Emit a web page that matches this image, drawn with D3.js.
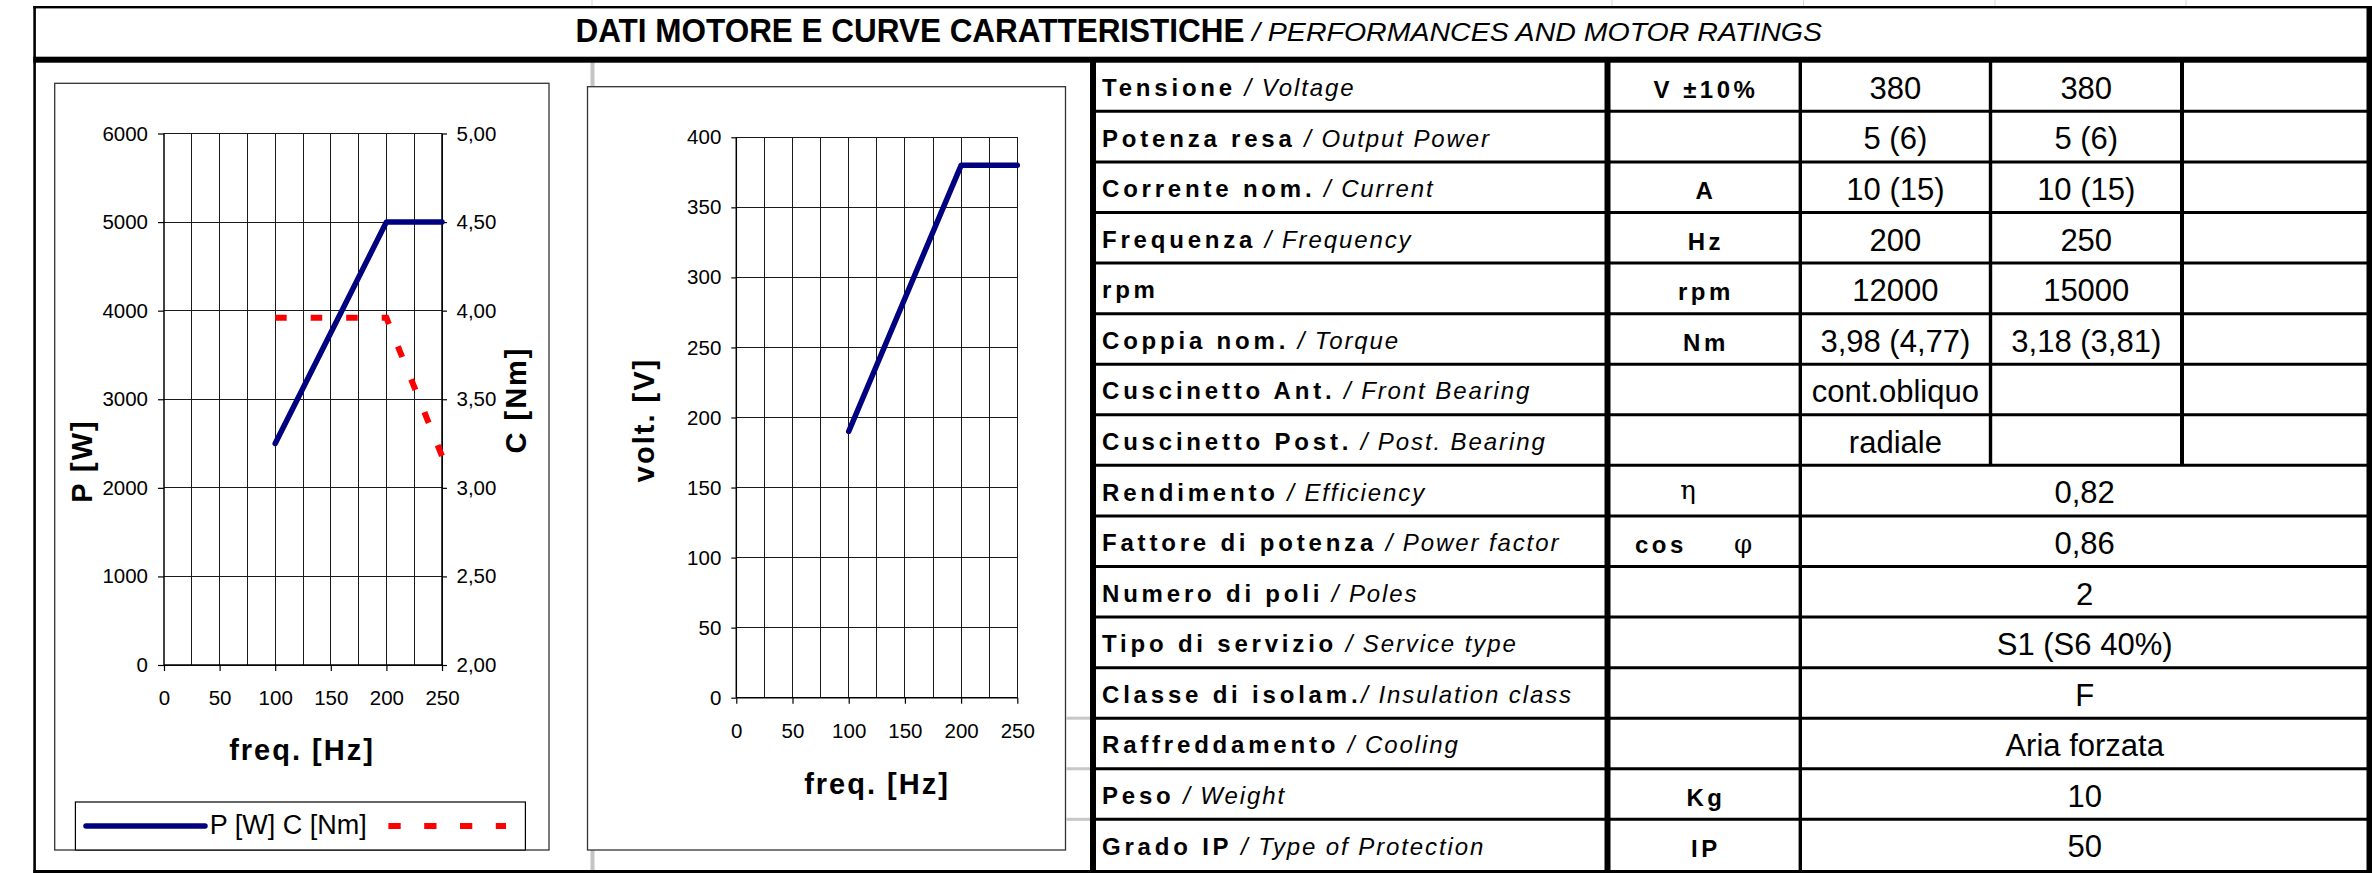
<!DOCTYPE html>
<html><head><meta charset="utf-8">
<script src="https://cdn.jsdelivr.net/npm/d3@7"></script>
<style>
html,body{margin:0;padding:0;background:#fff;}
svg{display:block;}
text{font-family:"Liberation Sans",Arial,sans-serif;fill:#000;}
</style></head><body>
<svg id="c" width="2372" height="873"></svg>
<script>
// ---------- data ----------
const freqHz   = [100, 200, 250];
const powerW   = [2500, 5000, 5000];
const torqueNm = [3.96, 3.96, 3.18];
const voltV    = [190, 380, 380];

const freqTicks   = [0, 50, 100, 150, 200, 250];
const freqGrid    = [25, 50, 75, 100, 125, 150, 175, 200, 225, 250];
const powerTicks  = [0, 1000, 2000, 3000, 4000, 5000, 6000];
const torqueTicks = [2.0, 2.5, 3.0, 3.5, 4.0, 4.5, 5.0];
const voltTicks   = [0, 50, 100, 150, 200, 250, 300, 350, 400];

const titleMain = "DATI MOTORE E CURVE CARATTERISTICHE";
const titleSub  = "/ PERFORMANCES AND MOTOR RATINGS";

const labelIt = ["Tensione", "Potenza resa", "Corrente nom.", "Frequenza", "rpm", "Coppia nom.",
  "Cuscinetto Ant.", "Cuscinetto Post.", "Rendimento", "Fattore di potenza", "Numero di poli",
  "Tipo di servizio", "Classe di isolam.", "Raffreddamento", "Peso", "Grado IP"];
const labelEn = [" / Voltage", " / Output Power", " / Current", " / Frequency", "", " / Torque",
  " / Front Bearing", " / Post. Bearing", " / Efficiency", " / Power factor", " / Poles",
  " / Service type", "/ Insulation class", " / Cooling", " / Weight", " / Type of Protection"];
const units   = ["V ±10%", "", "A", "Hz", "rpm", "Nm", "", "", "", "cos", "", "", "", "", "Kg", "IP"];
const symbols = ["", "", "", "", "", "", "", "", "η", "φ", "", "", "", "", "", ""];
const values200 = ["380", "5 (6)", "10 (15)", "200", "12000", "3,98 (4,77)", "cont.obliquo", "radiale"];
const values250 = ["380", "5 (6)", "10 (15)", "250", "15000", "3,18 (3,81)", "", ""];
const valuesCommon = ["0,82", "0,86", "2", "S1 (S6 40%)", "F", "Aria forzata", "10", "50"];

// ---------- drawing ----------
const svg = d3.select("#c");
const fmtC = d => d3.format(".2f")(d).replace(".", ",");

// faint marks above the frame
[592, 1612, 1803.5, 1995, 2186].forEach(x =>
  svg.append("line").attr("x1", x).attr("x2", x).attr("y1", 0).attr("y2", 6)
    .attr("stroke", "#d8d8d8").attr("stroke-width", 1));

// gray sheet line behind chart 2
svg.append("rect").attr("x", 590.5).attr("y", 60).attr("width", 4).attr("height", 810).attr("fill", "#c4c4c4");

// ---------- chart 1 ----------
svg.append("rect").attr("x", 54.7).attr("y", 83.3).attr("width", 494.3).attr("height", 766.7)
  .attr("fill", "#fff").attr("stroke", "#333").attr("stroke-width", 1.3);

const x1 = d3.scaleLinear().domain([0, 250]).range([164, 442]);
const yP = d3.scaleLinear().domain([0, 6000]).range([665, 133.5]);
const yC = d3.scaleLinear().domain([2, 5]).range([665, 133.5]);

const g1 = svg.append("g");
g1.selectAll(".vg").data(freqGrid).join("line")
  .attr("x1", d => x1(d)).attr("x2", d => x1(d)).attr("y1", yP(0)).attr("y2", yP(6000))
  .attr("stroke", "#1a1a1a").attr("stroke-width", 1).attr("shape-rendering", "crispEdges");
g1.selectAll(".hg").data(powerTicks).join("line")
  .attr("x1", x1(0)).attr("x2", x1(250)).attr("y1", d => yP(d)).attr("y2", d => yP(d))
  .attr("stroke", "#1a1a1a").attr("stroke-width", 1).attr("shape-rendering", "crispEdges");
g1.append("line").attr("x1", x1(0)).attr("x2", x1(0)).attr("y1", yP(0)).attr("y2", yP(6000))
  .attr("stroke", "#000").attr("stroke-width", 1.5);
g1.append("line").attr("x1", x1(250)).attr("x2", x1(250)).attr("y1", yP(0)).attr("y2", yP(6000))
  .attr("stroke", "#000").attr("stroke-width", 1.5);
g1.append("line").attr("x1", x1(0)).attr("x2", x1(250)).attr("y1", yP(0)).attr("y2", yP(0))
  .attr("stroke", "#000").attr("stroke-width", 1.5);

function styleAxis(g, size) {
  g.select(".domain").remove();
  g.selectAll(".tick line").attr("stroke", "#000").attr("stroke-width", 1.2);
  g.selectAll(".tick text").attr("font-size", size).attr("font-family", "Liberation Sans, Arial, sans-serif").attr("fill", "#000");
}
svg.append("g").attr("transform", `translate(${x1(0)},0)`)
  .call(d3.axisLeft(yP).tickValues(powerTicks).tickSize(6).tickPadding(10).tickFormat(d3.format("d")))
  .call(g => styleAxis(g, 20.5));
svg.append("g").attr("transform", `translate(${x1(250)},0)`)
  .call(d3.axisRight(yC).tickValues(torqueTicks).tickSize(5).tickPadding(9.5).tickFormat(fmtC))
  .call(g => styleAxis(g, 20.5));
svg.append("g").attr("transform", `translate(0,${yP(0)})`)
  .call(d3.axisBottom(x1).tickValues(freqTicks).tickSize(6).tickPadding(19).tickFormat(d3.format("d")))
  .call(g => styleAxis(g, 20.5));

const lineP = d3.line().x((d, i) => x1(freqHz[i])).y(d => yP(d));
const lineC = d3.line().x((d, i) => x1(freqHz[i])).y(d => yC(d));
svg.append("path").attr("d", lineC(torqueNm)).attr("fill", "none")
  .attr("stroke", "#ff0000").attr("stroke-width", 6).attr("stroke-dasharray", "11.5,24");
svg.append("path").attr("d", lineP(powerW)).attr("fill", "none")
  .attr("stroke", "#000080").attr("stroke-width", 5.5).attr("stroke-linecap", "round").attr("stroke-linejoin", "round");

const axTitle = (x, y, rot, txt) => svg.append("text")
  .attr("transform", `translate(${x},${y}) rotate(${rot})`).attr("text-anchor", "middle")
  .attr("font-size", 29).attr("font-weight", "bold").style("letter-spacing", "2px").text(txt);
axTitle(92, 461, -90, "P [W]");
axTitle(526, 400, -90, "C [Nm]");
axTitle(302, 760, 0, "freq. [Hz]");

// legend
svg.append("rect").attr("x", 75.4).attr("y", 802).attr("width", 450).attr("height", 48)
  .attr("fill", "#fff").attr("stroke", "#000").attr("stroke-width", 1.2);
svg.append("line").attr("x1", 86).attr("x2", 205).attr("y1", 826).attr("y2", 826)
  .attr("stroke", "#000080").attr("stroke-width", 5.5).attr("stroke-linecap", "round");
svg.append("text").attr("x", 209.7).attr("y", 834).attr("font-size", 27).text("P [W] C [Nm]");
svg.append("line").attr("x1", 388.4).attr("x2", 506).attr("y1", 826).attr("y2", 826)
  .attr("stroke", "#ff0000").attr("stroke-width", 6).attr("stroke-dasharray", "12.3,23.5");

// ---------- chart 2 ----------
svg.append("rect").attr("x", 587.5).attr("y", 86.7).attr("width", 478).attr("height", 763.3)
  .attr("fill", "#fff").attr("stroke", "#333").attr("stroke-width", 1.3);
const x2 = d3.scaleLinear().domain([0, 250]).range([736.3, 1017.3]);
const yV = d3.scaleLinear().domain([0, 400]).range([697.7, 137.3]);
const g2 = svg.append("g");
g2.selectAll(".vg").data(freqGrid).join("line")
  .attr("x1", d => x2(d)).attr("x2", d => x2(d)).attr("y1", yV(0)).attr("y2", yV(400))
  .attr("stroke", "#1a1a1a").attr("stroke-width", 1).attr("shape-rendering", "crispEdges");
g2.selectAll(".hg").data(voltTicks).join("line")
  .attr("x1", x2(0)).attr("x2", x2(250)).attr("y1", d => yV(d)).attr("y2", d => yV(d))
  .attr("stroke", "#1a1a1a").attr("stroke-width", 1).attr("shape-rendering", "crispEdges");
g2.append("line").attr("x1", x2(0)).attr("x2", x2(0)).attr("y1", yV(0)).attr("y2", yV(400))
  .attr("stroke", "#000").attr("stroke-width", 1.5);
g2.append("line").attr("x1", x2(0)).attr("x2", x2(250)).attr("y1", yV(0)).attr("y2", yV(0))
  .attr("stroke", "#000").attr("stroke-width", 1.5);
svg.append("g").attr("transform", `translate(${x2(0)},0)`)
  .call(d3.axisLeft(yV).tickValues(voltTicks).tickSize(5).tickPadding(10).tickFormat(d3.format("d")))
  .call(g => styleAxis(g, 20.5));
svg.append("g").attr("transform", `translate(0,${yV(0)})`)
  .call(d3.axisBottom(x2).tickValues(freqTicks).tickSize(6).tickPadding(19.5).tickFormat(d3.format("d")))
  .call(g => styleAxis(g, 20.5));
const lineV = d3.line().x((d, i) => x2(freqHz[i])).y(d => yV(d));
svg.append("path").attr("d", lineV(voltV)).attr("fill", "none")
  .attr("stroke", "#000080").attr("stroke-width", 5.5).attr("stroke-linecap", "round").attr("stroke-linejoin", "round");
axTitle(654, 420, -90, "volt. [V]");
axTitle(877, 794, 0, "freq. [Hz]");

// ---------- table ----------
const rows = d3.scaleBand().domain(d3.range(labelIt.length)).range([60.8, 869.9]).paddingInner(0).paddingOuter(0);
const rowMid = k => rows(k) + rows.bandwidth() / 2;
const colEdge = [1093, 1607.5, 1800.3, 1990.5, 2182, 2369];

// gray sheet lines left of table
[13, 14, 15].forEach(k => svg.append("line").attr("x1", 1066).attr("x2", 1092).attr("y1", rows(k)).attr("y2", rows(k))
  .attr("stroke", "#c8c8c8").attr("stroke-width", 3));

// row separators
svg.selectAll(".rowline").data(d3.range(1, labelIt.length)).join("line")
  .attr("x1", colEdge[0]).attr("x2", colEdge[5]).attr("y1", d => rows(d)).attr("y2", d => rows(d))
  .attr("stroke", "#000").attr("stroke-width", 3);

// vertical dividers
const vdiv = (x, w, y2) => svg.append("rect").attr("x", x - w / 2).attr("y", 57).attr("width", w).attr("height", y2 - 57).attr("fill", "#000");
vdiv(colEdge[0], 6, 873);
vdiv(colEdge[1], 6, 873);
vdiv(colEdge[2], 3.4, 873);
vdiv(colEdge[3], 3.4, rows(8));
vdiv(colEdge[4], 4, rows(8));

// outer borders and title line
svg.append("rect").attr("x", 33.3).attr("y", 6).attr("width", 2338.7).attr("height", 2.4).attr("fill", "#000");
svg.append("rect").attr("x", 33.3).attr("y", 6).attr("width", 2.6).attr("height", 867).attr("fill", "#000");
svg.append("rect").attr("x", 2366.5).attr("y", 6).attr("width", 5.5).attr("height", 867).attr("fill", "#000");
svg.append("rect").attr("x", 33.3).attr("y", 56.7).attr("width", 2338.7).attr("height", 6).attr("fill", "#000");
svg.append("rect").attr("x", 33.3).attr("y", 870).attr("width", 2338.7).attr("height", 3).attr("fill", "#000");

// title
svg.append("text").attr("x", 575.5).attr("y", 42).attr("font-size", 33).attr("font-weight", "bold")
  .attr("textLength", 669).attr("lengthAdjust", "spacingAndGlyphs").text(titleMain);
svg.append("text").attr("x", 1252).attr("y", 41).attr("font-size", 25.5).attr("font-style", "italic")
  .attr("textLength", 570).attr("lengthAdjust", "spacingAndGlyphs").text(titleSub);

// labels
const lab = svg.selectAll(".lab").data(labelIt).join("text")
  .attr("x", 1102).attr("y", (d, i) => rowMid(i) + 10).attr("font-size", 24);
lab.append("tspan").attr("font-weight", "bold").style("letter-spacing", "3.8px").text(d => d);
lab.append("tspan").attr("font-style", "italic").style("letter-spacing", "1.9px").text((d, i) => labelEn[i]);

// units
units.forEach((u, i) => {
  if (!u) return;
  const t = svg.append("text").attr("y", rowMid(i) + 12).attr("font-size", 24).attr("font-weight", "bold")
    .style("letter-spacing", "3.5px").text(u);
  if (u === "cos") t.attr("x", 1635);
  else t.attr("x", (colEdge[1] + colEdge[2]) / 2 + 2).attr("text-anchor", "middle");
});
symbols.forEach((s, i) => {
  if (!s) return;
  svg.append("text").attr("x", s === "η" ? 1688 : 1743).attr("y", rowMid(i) + (s === "η" ? 8 : 12))
    .attr("text-anchor", "middle").attr("font-size", 26)
    .style("font-family", "'DejaVu Serif', serif").attr("fill", "#9a9a9a").style("font-weight", "200").text(s);
});

// values
const valText = (x, y, txt) => svg.append("text").attr("x", x).attr("y", y).attr("text-anchor", "middle")
  .attr("font-size", 31).text(txt);
values200.forEach((v, i) => { if (v) valText((colEdge[2] + colEdge[3]) / 2, rowMid(i) + 12.8, v); });
values250.forEach((v, i) => { if (v) valText((colEdge[3] + colEdge[4]) / 2, rowMid(i) + 12.8, v); });
valuesCommon.forEach((v, i) => valText((colEdge[2] + colEdge[5]) / 2, rowMid(i + 8) + 12.8, v));
</script>
</body></html>
